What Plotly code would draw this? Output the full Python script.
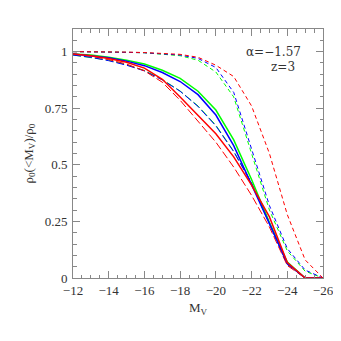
import plotly.graph_objects as go

# absolute magnitude grid
mv = [-12, -13, -14, -15, -16, -17, -18, -19, -20, -21, -22, -23, -24, -25, -26]

# solid curves
solid_green = [0.99, 0.985, 0.975, 0.962, 0.945, 0.918, 0.882, 0.825, 0.742, 0.61, 0.435, 0.245, 0.07, 0.0, 0.0]
solid_blue = [0.99, 0.983, 0.973, 0.958, 0.938, 0.908, 0.868, 0.81, 0.72, 0.585, 0.415, 0.24, 0.065, 0.0, 0.0]
solid_red = [0.99, 0.982, 0.97, 0.953, 0.927, 0.878, 0.80, 0.72, 0.637, 0.535, 0.41, 0.27, 0.068, 0.0, 0.0]

# long-dashed curves
ldash_green = [0.985, 0.975, 0.962, 0.942, 0.917, 0.877, 0.826, 0.76, 0.675, 0.56, 0.42, 0.245, 0.06, 0.0, 0.0]
ldash_blue = [0.985, 0.975, 0.96, 0.94, 0.915, 0.875, 0.825, 0.758, 0.672, 0.558, 0.418, 0.243, 0.06, 0.0, 0.0]
ldash_red = [0.99, 0.98, 0.965, 0.945, 0.915, 0.865, 0.785, 0.695, 0.60, 0.49, 0.365, 0.225, 0.055, 0.0, 0.0]

# short-dashed curves
sdash_green = [1.0, 1.0, 0.998, 0.997, 0.995, 0.99, 0.982, 0.962, 0.91, 0.8, 0.55, 0.30, 0.12, 0.03, 0.0]
sdash_blue = [1.0, 1.0, 0.998, 0.997, 0.995, 0.991, 0.985, 0.97, 0.93, 0.82, 0.57, 0.32, 0.13, 0.035, 0.0]
sdash_red = [1.0, 1.0, 1.0, 0.998, 0.996, 0.993, 0.988, 0.975, 0.94, 0.89, 0.76, 0.55, 0.28, 0.08, 0.0]

fig = go.Figure()

series = [
    (sdash_green, "#00ff00", "4px,3px", 1),
    (sdash_blue, "#0000ff", "4px,3px", 1),
    (sdash_red, "#ff0000", "4px,3px", 1),
    (ldash_green, "#00ff00", "8px,3px", 1),
    (ldash_blue, "#0000ff", "8px,3px", 1),
    (ldash_red, "#ff0000", "8px,3px", 1),
    (solid_green, "#00ff00", "solid", 1.5),
    (solid_blue, "#0000ff", "solid", 1.5),
    (solid_red, "#ff0000", "solid", 1.5),
]
for ys, col, dash, w in series:
    fig.add_trace(go.Scatter(x=mv, y=ys, mode="lines",
                             line=dict(color=col, dash=dash, width=w),
                             showlegend=False))

fig.add_annotation(x=0.92, y=0.908, xref="paper", yref="paper",
                   text="α=−1.57", showarrow=False,
                   xanchor="right", yanchor="middle",
                   font=dict(family="DejaVu Serif", size=12, color="#333333"))
fig.add_annotation(x=0.896, y=0.849, xref="paper", yref="paper",
                   text="z=3", showarrow=False,
                   xanchor="right", yanchor="middle",
                   font=dict(family="DejaVu Serif", size=12, color="#333333"))

axis_style = dict(
    showline=True, linecolor="#888888", linewidth=1, mirror="allticks",
    ticks="inside", ticklen=7, tickcolor="#888888", showgrid=False,
    zeroline=False, tickfont=dict(size=13, color="#333333"),
    automargin=False, ticklabeloverflow="allow",
)

fig.update_xaxes(range=[-12, -26], tickvals=list(range(-12, -27, -2)),
                 ticktext=["−12", "−14", "−16", "−18", "−20", "−22", "−24", "−26"],
                 minor=dict(dtick=0.5, ticks="inside", ticklen=3.5, tickcolor="#888888"),
                 title=dict(text="M<sub>V</sub>", font=dict(size=13, color="#333333"), standoff=6),
                 **axis_style)
fig.update_yaxes(range=[0, 1.1], tickvals=[0, 0.25, 0.5, 0.75, 1],
                 ticktext=["0", "0.25", "0.5", "0.75", "1"],
                 minor=dict(dtick=0.05, ticks="inside", ticklen=3.5, tickcolor="#888888"),
                 title=dict(text="ρ<sub>0</sub>(<M<sub>V</sub>)/ρ<sub>0</sub>",
                            font=dict(size=13, color="#333333"), standoff=8),
                 ticklabelstandoff=2,
                 **axis_style)

# the page puts the figure 8 px in from the top-left corner
fig.update_layout(
    width=333, height=333,
    margin=dict(l=65, r=18, t=21, b=63),
    plot_bgcolor="white", paper_bgcolor="white",
    font=dict(family="Liberation Serif", size=13, color="#333333"),
)

fig.write_html("out.html")
